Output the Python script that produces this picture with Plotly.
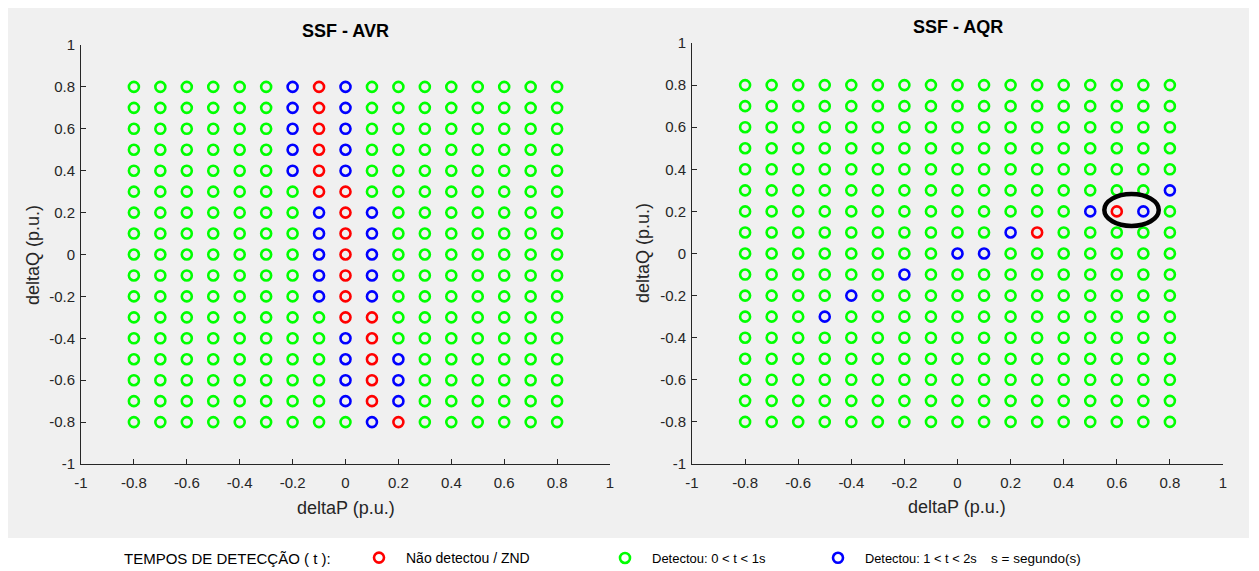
import plotly.graph_objects as go

W, H = 1259, 571          # browser window
OFF = 8                   # default page body margin
FW, FH = W - OFF, H - OFF # figure reaches the window's right/bottom edge

# ---------------- data ----------------
delta_p = [-0.8, -0.7, -0.6, -0.5, -0.4, -0.3, -0.2, -0.1, 0.0,
           0.1, 0.2, 0.3, 0.4, 0.5, 0.6, 0.7, 0.8]
delta_q = [0.8, 0.7, 0.6, 0.5, 0.4, 0.3, 0.2, 0.1, 0.0,
           -0.1, -0.2, -0.3, -0.4, -0.5, -0.6, -0.7, -0.8]

# status per row (deltaQ from 0.8 down to -0.8), one char per deltaP column
# R = Não detectou / ZND, G = Detectou 0<t<1s, B = Detectou 1<t<2s
avr_status = [
    "GGGGGGBRBGGGGGGGG",  # 0.8
    "GGGGGGBRBGGGGGGGG",  # 0.7
    "GGGGGGBRBGGGGGGGG",  # 0.6
    "GGGGGGBRBGGGGGGGG",  # 0.5
    "GGGGGGBRBGGGGGGGG",  # 0.4
    "GGGGGGGRRGGGGGGGG",  # 0.3
    "GGGGGGGBRBGGGGGGG",  # 0.2
    "GGGGGGGBRBGGGGGGG",  # 0.1
    "GGGGGGGBRBGGGGGGG",  # 0.0
    "GGGGGGGBRBGGGGGGG",  # -0.1
    "GGGGGGGBRBGGGGGGG",  # -0.2
    "GGGGGGGGRRGGGGGGG",  # -0.3
    "GGGGGGGGBRGGGGGGG",  # -0.4
    "GGGGGGGGBRBGGGGGG",  # -0.5
    "GGGGGGGGBRBGGGGGG",  # -0.6
    "GGGGGGGGBRBGGGGGG",  # -0.7
    "GGGGGGGGGBRGGGGGG",  # -0.8
]
aqr_status = [
    "GGGGGGGGGGGGGGGGG",  # 0.8
    "GGGGGGGGGGGGGGGGG",  # 0.7
    "GGGGGGGGGGGGGGGGG",  # 0.6
    "GGGGGGGGGGGGGGGGG",  # 0.5
    "GGGGGGGGGGGGGGGGG",  # 0.4
    "GGGGGGGGGGGGGGGGB",  # 0.3
    "GGGGGGGGGGGGGBRBG",  # 0.2
    "GGGGGGGGGGBRGGGGG",  # 0.1
    "GGGGGGGGBBGGGGGGG",  # 0.0
    "GGGGGGBGGGGGGGGGG",  # -0.1
    "GGGGBGGGGGGGGGGGG",  # -0.2
    "GGGBGGGGGGGGGGGGG",  # -0.3
    "GGGGGGGGGGGGGGGGG",  # -0.4
    "GGGGGGGGGGGGGGGGG",  # -0.5
    "GGGGGGGGGGGGGGGGG",  # -0.6
    "GGGGGGGGGGGGGGGGG",  # -0.7
    "GGGGGGGGGGGGGGGGG",  # -0.8
]

status_codes = ["R", "G", "B"]
status_names = ["Não detectou / ZND", "Detectou: 0 < t < 1s", "Detectou: 1 < t < 2s"]
status_colors = ["#ff0000", "#00ff00", "#0000ff"]

tick_vals = [-1, -0.8, -0.6, -0.4, -0.2, 0, 0.2, 0.4, 0.6, 0.8, 1]
tick_text = ["-1", "-0.8", "-0.6", "-0.4", "-0.2", "0", "0.2", "0.4", "0.6", "0.8", "1"]

titles = ["SSF - AVR", "SSF - AQR"]
x_label = "deltaP (p.u.)"
y_label = "deltaQ (p.u.)"
legend_title = "TEMPOS DE DETECÇÃO ( t ):"
legend_note = "s = segundo(s)"

# highlighted region in the AQR panel (ellipse)
ellipse_p = [0.553, 0.758]
ellipse_q = [0.131, 0.283]

# ---------------- helpers (window pixel -> paper fraction) ----------------
def fx(px):
    return (px - OFF) / FW

def fy(py):
    return 1 - (py - OFF) / FH

FONT = "Liberation Sans, Arial, sans-serif"
AX_COL = "#262626"

fig = go.Figure()

panels = [(avr_status, "x", "y"), (aqr_status, "x2", "y2")]
legends = ["legend", "legend2", "legend3"]
for pi_, (status, xa, ya) in enumerate(panels):
    for ci, code in enumerate(status_codes):
        xs, ys = [], []
        for qi, row in enumerate(status):
            for pj, c in enumerate(row):
                if c == code:
                    xs.append(delta_p[pj])
                    ys.append(delta_q[qi])
        fig.add_trace(go.Scatter(
            x=xs, y=ys, mode="markers", xaxis=xa, yaxis=ya,
            name=status_names[ci], showlegend=(pi_ == 0),
            legend=legends[ci],
            marker=dict(symbol="circle-open", size=10, color=status_colors[ci],
                        line=dict(width=2.6, color=status_colors[ci])),
            hoverinfo="x+y",
        ))

def axis(domain, anchor, standoff):
    return dict(
        domain=domain, anchor=anchor, range=[-1, 1],
        tickmode="array", tickvals=tick_vals, ticktext=tick_text,
        ticks="inside", ticklen=5, tickwidth=1, tickcolor=AX_COL,
        showline=True, linecolor=AX_COL, linewidth=1, mirror=False,
        showgrid=False, zeroline=False, ticklabelstandoff=standoff,
        tickfont=dict(family=FONT, size=15, color=AX_COL),
        fixedrange=True,
    )

L = dict(x0=81, x1=610, y0=45, y1=464)
R = dict(x0=692, x1=1223, y0=43, y1=464)

fig.update_layout(
    xaxis=axis([fx(L["x0"]), fx(L["x1"])], "y", 5),
    yaxis=axis([fy(L["y1"]), fy(L["y0"])], "x", 2),
    xaxis2=axis([fx(R["x0"]), fx(R["x1"])], "y2", 5),
    yaxis2=axis([fy(R["y1"]), fy(R["y0"])], "x2", 2),
)

ITEMW = 44
leg_common = dict(orientation="v", yanchor="middle", y=fy(558), xanchor="left",
                  bgcolor="rgba(0,0,0,0)", borderwidth=0, itemwidth=ITEMW,
                  itemclick=False, itemdoubleclick=False)
symbol_px = [378, 624, 837]
legend_font_sizes = [14, 13, 12.8]
sym_off = ITEMW / 2 + 4
for k, lid in enumerate(legends):
    fig.update_layout({lid: dict(leg_common, x=fx(symbol_px[k] - sym_off),
                                 font=dict(family=FONT, size=legend_font_sizes[k],
                                           color="#000000"))})

ann = []
for t, cx, cy in [(titles[0], 345, 31), (titles[1], 958, 27)]:
    ann.append(dict(text="<b>%s</b>" % t, x=fx(cx), y=fy(cy), xref="paper", yref="paper",
                    showarrow=False, xanchor="center", yanchor="middle",
                    font=dict(family=FONT, size=18, color="#000000")))
for cx, cy in [(346, 508), (957, 507)]:
    ann.append(dict(text=x_label, x=fx(cx), y=fy(cy), xref="paper", yref="paper",
                    showarrow=False, xanchor="center", yanchor="middle",
                    font=dict(family=FONT, size=18, color=AX_COL)))
for cx, cy in [(33, 255), (643, 253)]:
    ann.append(dict(text=y_label, x=fx(cx), y=fy(cy), xref="paper", yref="paper",
                    showarrow=False, xanchor="center", yanchor="middle", textangle=-90,
                    font=dict(family=FONT, size=18, color=AX_COL)))
ann.append(dict(text=legend_title, x=fx(122), y=fy(558), xref="paper", yref="paper",
                showarrow=False, xanchor="left", yanchor="middle",
                font=dict(family=FONT, size=15, color="#000000")))
ann.append(dict(text=legend_note, x=fx(989), y=fy(558), xref="paper", yref="paper",
                showarrow=False, xanchor="left", yanchor="middle",
                font=dict(family=FONT, size=13.5, color="#000000")))

shapes = [
    dict(type="rect", xref="paper", yref="paper", x0=fx(4), x1=fx(1249),
         y0=fy(538), y1=fy(4), fillcolor="#f0f0f0", line=dict(width=0),
         layer="below"),
    dict(type="circle", xref="x2", yref="y2", x0=ellipse_p[0], x1=ellipse_p[1],
         y0=ellipse_q[0], y1=ellipse_q[1], line=dict(color="#000000", width=4.5),
         layer="above"),
]

fig.update_layout(
    width=FW, height=FH, autosize=False,
    margin=dict(l=0, r=0, t=0, b=0, pad=0, autoexpand=False),
    paper_bgcolor="#ffffff", plot_bgcolor="#ffffff",
    annotations=ann, shapes=shapes,
    font=dict(family=FONT),
    hovermode="closest",
)

fig.write_html("out.html", config={"displayModeBar": False})
